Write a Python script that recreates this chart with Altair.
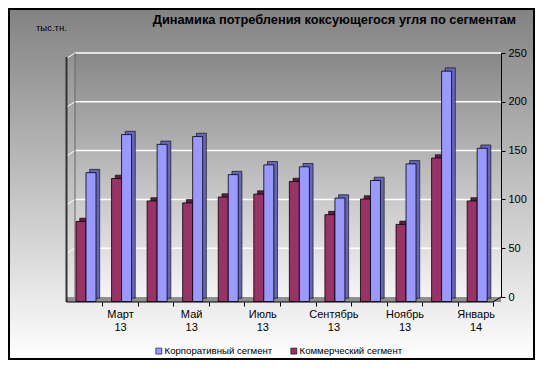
import altair as alt
import pandas as pd

months = ["Февраль 13", "Март 13", "Апрель 13", "Май 13", "Июнь 13", "Июль 13",
          "Август 13", "Сентябрь 13", "Октябрь 13", "Ноябрь 13", "Декабрь 13", "Январь 14"]
shown_labels = ["Март 13", "Май 13", "Июль 13", "Сентябрь 13", "Ноябрь 13", "Январь 14"]
corporate = [132, 171, 161, 169, 130, 140, 138, 106, 124, 141, 236, 157]
commercial = [82, 126, 103, 101, 107, 110, 123, 89, 105, 79, 147, 103]
series_names = ["Корпоративный сегмент", "Коммерческий сегмент"]
front_colors = ["#9999ff", "#993366"]
side_colors = ["#6666b8", "#5e1f40"]
y_ticks = [0, 50, 100, 150, 200, 250]
grid_values = [50, 100, 150, 200, 250]
title_text = "Динамика потребления коксующегося угля по сегментам"
unit_text = "тыс.тн."

FONT = "Liberation Sans"
W, H = 426, 244
PL, PT, PR, PB = 67, 45, 34, 63
STEP = 35.56            # pixels per month
BAR = 10 / STEP         # bar width in month units
X_DOMAIN = [-11 / STEP, (W - 11) / STEP]
TICK_SHIFT = 0.543      # boundary ticks sit this far before a month's centre

rows = []
for i, m in enumerate(months):
    rows.append({"idx": i, "series": series_names[1], "value": commercial[i],
                 "side": side_colors[1], "pos": -1})
    rows.append({"idx": i, "series": series_names[0], "value": corporate[i],
                 "side": side_colors[0], "pos": 0})
df = pd.DataFrame(rows)
grid_df = pd.DataFrame({"value": grid_values})
one = pd.DataFrame({"k": [0]})

tick_values = [k - TICK_SHIFT for k in range(len(months) + 1)]
label_arr = [m if m in shown_labels else "" for m in months] + [""]
label_js = "[" + ",".join("'" + s + "'" for s in label_arr) + "]"

y_axis = alt.Axis(orient="right", values=y_ticks, grid=False, domainColor="black",
                  tickColor="black", tickSize=4, labelFontSize=11, labelColor="black",
                  labelFont=FONT, title=None, labelPadding=3, zindex=1)
y_scale = alt.Scale(domain=[0, 250], nice=False, padding=0)
y_enc = alt.Y("value:Q", scale=y_scale, axis=y_axis)

x_axis = alt.Axis(orient="bottom", offset=5, domain=False, ticks=True, tickSize=4,
                  tickColor="black", values=tick_values, labelOffset=STEP / 2,
                  labelExpr="split(" + label_js + "[round(datum.value + " + str(TICK_SHIFT) + ")], ' ')",
                  labelAngle=0, labelFontSize=11, labelColor="black", labelFont=FONT,
                  labelBaseline="top", labelLineHeight=13, labelPadding=2, title=None,
                  grid=False, labelOverlap=False, labelBound=False, labelFlush=False, zindex=1)
x_scale = alt.Scale(domain=X_DOMAIN, nice=False, zero=False, padding=0)
x_enc = alt.X("x0:Q", scale=x_scale, axis=x_axis)
x2_enc = alt.X2("x1:Q")

outer_grad = alt.Gradient(gradient="linear", x1=0, x2=0, y1=0, y2=1,
                          stops=[alt.GradientStop(color="#828282", offset=0),
                                 alt.GradientStop(color="#ffffff", offset=1)])
wall_grad = alt.Gradient(gradient="linear", x1=0, x2=0, y1=0, y2=1,
                         stops=[alt.GradientStop(color="#878787", offset=0),
                                alt.GradientStop(color="#f5f5f5", offset=1)])

outer = alt.Chart(one).mark_rect(fill=outer_grad, stroke="black", strokeWidth=2).encode(
    x=alt.value(-PL + 1), x2=alt.value(W + PR - 1), y=alt.value(-PT + 1), y2=alt.value(H + PB - 1))
wall = alt.Chart(one).mark_rect(fill=wall_grad).encode(
    x=alt.value(0), x2=alt.value(W), y=alt.value(0), y2=alt.value(H))
floor = alt.Chart(one).mark_rect(fill="#8f8f8f").encode(
    x=alt.value(-8), x2=alt.value(W), y=alt.value(H), y2=alt.value(H + 5))

grid = alt.Chart(grid_df).mark_rule(color="white", strokeWidth=1.5).encode(
    x=alt.value(0), x2=alt.value(W), y=y_enc)
stubs = alt.Chart(grid_df).mark_rule(color="white", strokeWidth=1, yOffset=5).encode(
    x=alt.value(-8), x2=alt.value(0), y=y_enc, y2=alt.Y2("value:Q"))

left_line = alt.Chart(one).mark_rule(color="#333333", strokeWidth=2).encode(
    x=alt.value(-8.5), y=alt.value(4), y2=alt.value(H + 5))
wall_left = alt.Chart(one).mark_rule(color="#666666", strokeWidth=1).encode(
    x=alt.value(0), y=alt.value(0), y2=alt.value(H))
diag0 = alt.Chart(one).mark_rule(color="black", strokeWidth=1).encode(
    x=alt.value(W), x2=alt.value(W - 8), y=alt.value(H), y2=alt.value(H + 5))
front_axis = alt.Chart(one).mark_rule(color="black", strokeWidth=1).encode(
    x=alt.value(-8.5), x2=alt.value(W - 7.6), y=alt.value(H + 5))

bars_base = alt.Chart(df).transform_calculate(
    x0="datum.idx + datum.pos * " + str(BAR),
    x1="datum.idx + (datum.pos + 1) * " + str(BAR))

depth = bars_base.mark_rect(stroke="black", strokeWidth=0.6, xOffset=3.7, x2Offset=3.7,
                            yOffset=1.2, y2Offset=1.2).encode(
    x=x_enc, x2=x2_enc, y=y_enc, y2=alt.datum(0),
    fill=alt.Fill("side:N", scale=None, legend=None))

front = bars_base.mark_rect(stroke="black", strokeWidth=0.8, yOffset=4.5, y2Offset=4.5).encode(
    x=x_enc, x2=x2_enc, y=y_enc, y2=alt.datum(0),
    color=alt.Color("series:N", scale=alt.Scale(domain=series_names, range=front_colors),
                    legend=alt.Legend(orient="none", legendX=79, legendY=293, direction="horizontal",
                                      title=None, symbolType="square", symbolSize=36,
                                      symbolStrokeColor="black", symbolStrokeWidth=0.6,
                                      labelFontSize=9.6, labelFont=FONT, labelColor="black",
                                      columnPadding=16, labelOffset=1, padding=0)))

title = alt.Chart(one).mark_text(text=title_text, align="right", baseline="middle", fontWeight="bold",
                                 fontSize=12.8, font=FONT, color="black").encode(
    x=alt.value(441), y=alt.value(-33))
unit = alt.Chart(one).mark_text(text=unit_text, align="left", baseline="middle",
                                fontSize=9.5, font=FONT, color="black").encode(
    x=alt.value(-39), y=alt.value(-25))

chart = alt.layer(outer, wall, floor, grid, stubs, left_line, wall_left, depth, front,
                  front_axis, diag0, title, unit).properties(
    width=W, height=H, autosize="none",
    padding={"left": PL, "top": PT, "right": PR, "bottom": PB},
    background="white"
).configure_view(strokeWidth=0)

chart.save("out.html", embed_options={"renderer": "svg", "actions": False})
